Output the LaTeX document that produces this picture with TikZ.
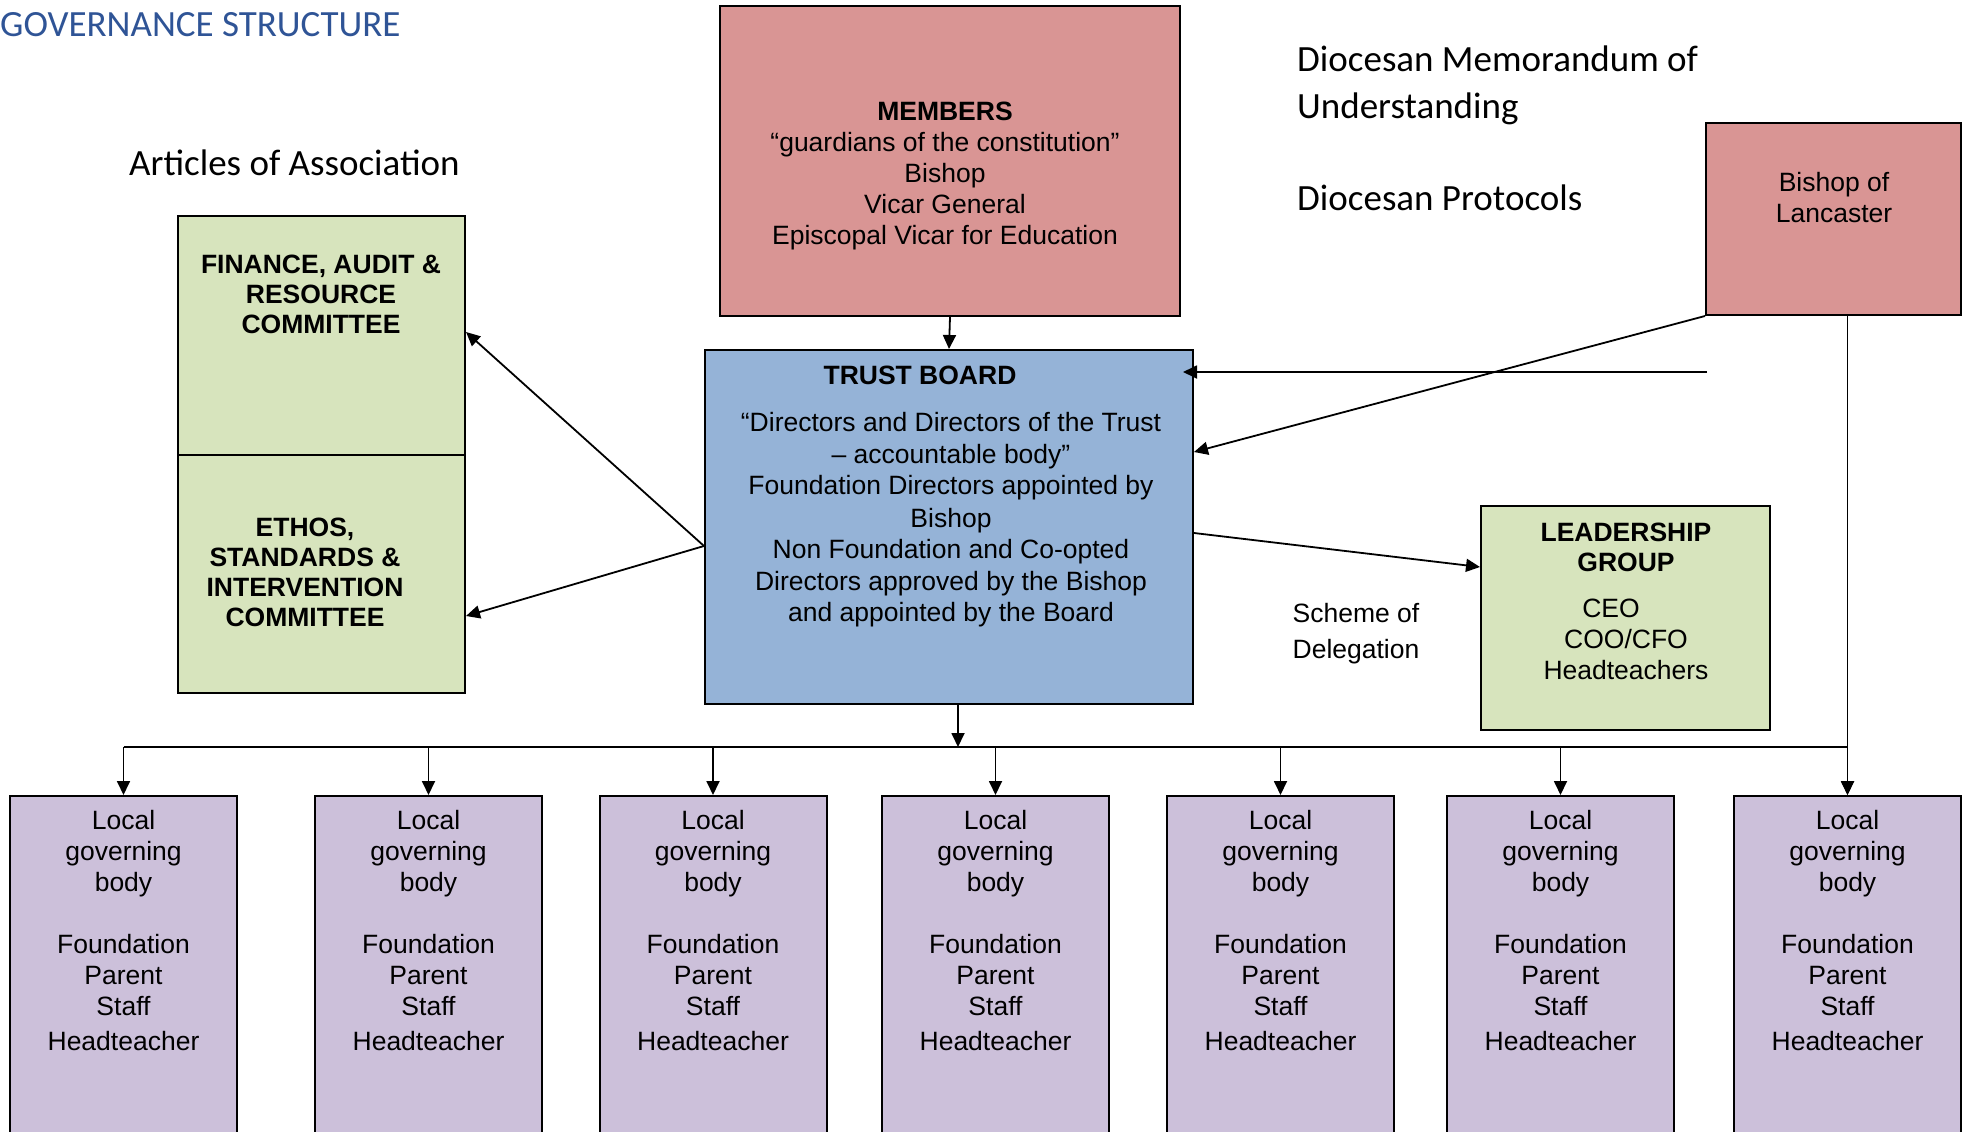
\documentclass[tikz,border=0pt]{standalone}
\usepackage{fontspec}
\setmainfont{Liberation Sans}
\newfontfamily\calibri{Carlito}
\usetikzlibrary{arrows.meta}
\definecolor{titleblue}{RGB}{47,84,150}
\definecolor{bishoppink}{RGB}{217,149,148}
\definecolor{boardblue}{RGB}{149,179,215}
\definecolor{committeegreen}{RGB}{215,228,189}
\definecolor{lgbpurple}{RGB}{204,192,218}
\begin{document}
\begin{tikzpicture}[x=1pt,y=-1pt,
        box/.style={draw,line width=2pt,rectangle,inner sep=0pt},
        boxtext/.style={align=center,inner sep=0pt,font=\fontsize{26.5}{31}\selectfont},
        boldtext/.style={align=center,inner sep=0pt,font=\bfseries\fontsize{26.5}{30}\selectfont},
        note/.style={align=left,anchor=west,inner sep=0pt,font=\calibri\fontsize{37}{47}\selectfont},
        link/.style={line width=1.8pt,-{Triangle[length=14pt,width=13pt]}}]
        \useasboundingbox (0,0) rectangle (1971,1132);
        \clip (0,0) rectangle (1971,1132);
        %% Headings
        \node[note,text=titleblue] (title) at (0,25) {GOVERNANCE STRUCTURE};
        \node[note] (articles) at (129,162.5) {Articles of Association};
        \node[note] (memo) at (1297,85) {Diocesan Memorandum of\\Understanding};
        \node[note] (protocols) at (1297,197.5) {Diocesan Protocols};
        %% Members and Bishop
        \node[box,fill=bishoppink,minimum width=460pt,minimum height=310pt] (members) at (950,161) {};
        \node[boxtext] (memberstext) at (945,176) {\textbf{MEMBERS}\\“guardians of the constitution”\\Bishop\\Vicar General\\Episcopal Vicar for Education};
        \node[box,fill=bishoppink,minimum width=255pt,minimum height=192pt] (bishop) at (1833.5,219) {};
        \node[boxtext] (bishoptext) at (1834,198) {Bishop of\\Lancaster};
        %% Trust board
        \node[box,fill=boardblue,minimum width=488pt,minimum height=354pt] (trust) at (949,527) {};
        \node[boldtext] (trusttitle) at (920,375) {TRUST BOARD};
        \node[boxtext,font=\fontsize{26.5}{31.5}\selectfont] (trusttext) at (951,520) {“Directors and Directors of the Trust\\– accountable body”\\Foundation Directors appointed by\\[1pt]Bishop\\Non Foundation and Co-opted\\Directors approved by the Bishop\\and appointed by the Board};
        %% Committees
        \node[box,fill=committeegreen,minimum width=287pt,minimum height=239pt] (far) at (321.5,335.5) {};
        \node[boldtext] (fartext) at (321,294) {FINANCE, AUDIT \&\\RESOURCE\\COMMITTEE};
        \node[box,fill=committeegreen,minimum width=287pt,minimum height=238pt] (esi) at (321.5,574) {};
        \node[boldtext] (esitext) at (305,572.5) {ETHOS,\\STANDARDS \&\\INTERVENTION\\COMMITTEE};
        %% Leadership group
        \node[box,fill=committeegreen,minimum width=289pt,minimum height=224pt] (leader) at (1625.5,618) {};
        \node[boldtext] (leadertitle) at (1626,547) {LEADERSHIP\\GROUP};
        \node[boxtext] (leaderstaff) at (1626,639) {CEO\hspace*{30pt}\\COO/CFO\hspace*{30pt}\\Headteachers};
        \node[boxtext,font=\fontsize{26.5}{36}\selectfont] (scheme) at (1356,634) {Scheme of\\Delegation};
        %% Local governing bodies
        \coordinate (bus) at (0,747);
        \foreach \i/\cx in {1/123.5,2/428.5,3/713,4/995.5,5/1280.5,6/1560.5,7/1847.5}{
            \node[box,fill=lgbpurple,minimum width=227pt,minimum height=370pt,anchor=north] (lgb\i) at (\cx,795) {};
            \node[boxtext] (lgbtext\i) at (\cx,931) {Local\\governing\\body\\[31pt]Foundation\\Parent\\Staff\\[4pt]Headteacher};
            \draw[link] (lgb\i.north |- bus) -- (lgb\i.north);
        }
        \draw[line width=1.8pt] (lgb1.north |- bus) -- (lgb7.north |- bus);
        %% Connectors
        \draw[link] (members.south) -- (trust.north);
        \coordinate (trustout) at ([xshift=9pt]trust.south);
        \draw[link] (trustout) -- (trustout |- bus);
        \draw[link] (bishop.south -| lgb7.north) -- (lgb7.north);
        \coordinate (trustleft) at ([yshift=-19pt]trust.west);
        \draw[link] (trustleft) -- ([yshift=3.5pt]far.east);
        \draw[link] (trustleft) -- ([yshift=-42pt]esi.east);
        \draw[link] (bishop.south west) -- ([yshift=75pt]trust.east);
        \coordinate (diocfeed) at (1707,372);
        \coordinate (diocend) at ([xshift=-11pt]trust.east);
        \draw[link] (diocfeed) -- (diocend |- diocfeed);
        \draw[link] ([yshift=-6pt]trust.east) -- ([yshift=51pt]leader.west);
    \end{tikzpicture}
\end{document}
